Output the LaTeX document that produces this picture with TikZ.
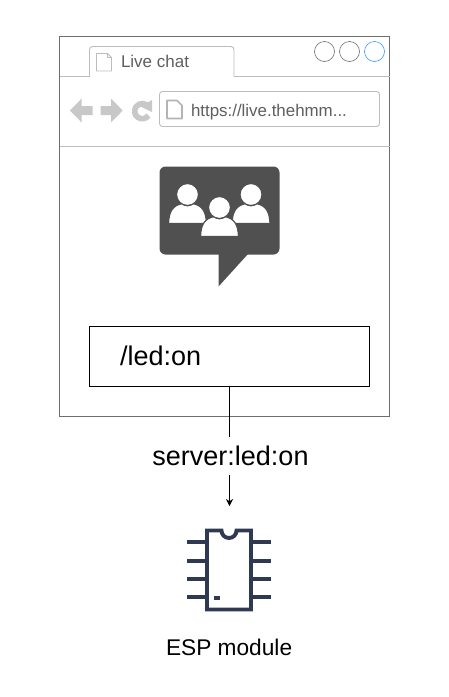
\documentclass[tikz,border=0pt]{standalone}
\usepackage{fontspec}
\setmainfont{Liberation Sans}
\usetikzlibrary{arrows.meta}
\definecolor{winline}{HTML}{6E6E6E}
\definecolor{lightline}{HTML}{BDBDBD}
\definecolor{icongrey}{HTML}{C8C8C8}
\definecolor{chatdark}{HTML}{505050}
\definecolor{chipcol}{HTML}{2F3A52}
\definecolor{txtgrey}{HTML}{5F5F5F}
\definecolor{dotblue}{HTML}{3399FF}
\tikzset{
  box/.style={draw,inner sep=0pt,outer sep=0pt},
  winbox/.style={box,draw=winline,line width=0.9pt,minimum width=330pt,minimum height=380pt},
  inputbox/.style={box,draw=black,line width=0.9pt,minimum width=280pt,minimum height=60pt},
  urlbox/.style={box,draw=lightline,line width=0.9pt,rounded corners=3pt,minimum width=220pt,minimum height=35pt},
  dot/.style={circle,box,line width=0.6pt,minimum size=20pt,draw=winline},
  sep/.style={draw=lightline,line width=0.9pt},
  pageicon/.style={draw=lightline,line width=0.9pt,fill=white,line join=round},
  navicon/.style={fill=icongrey,draw=none},
  person/.style={fill=white,draw=chatdark,line width=1.2pt},
  chipline/.style={draw=chipcol,line width=3.9pt},
  chippin/.style={draw=chipcol,line width=3.9pt},
  lbl/.style={inner sep=0pt,outer sep=0pt,anchor=base west},
  conn/.style={draw=black,line width=0.7pt},
  connarrow/.style={conn,-{Stealth[length=7pt,width=7pt]}}
}
\begin{document}
\begin{tikzpicture}[x=1pt,y=-1pt]
\useasboundingbox[fill=white] (0,0) rectangle (449,697);
\node[winbox] (win) at (224.5,226.5) {};
% tab strip
\draw[sep] (win.west |- 0,76.5) -- (89.5,76.5);
\draw[sep,rounded corners=3pt] (89.5,76.5) -- (89.5,46.5) -- (234,46.5) -- (234,76.5);
\draw[sep] (234,76.5) -- (win.east |- 0,76.5);
\draw[sep] (win.west |- 0,146.5) -- (win.east |- 0,146.5);
\draw[pageicon] (96.5,53.5) -- (107.5,53.5) -- (111.5,57.5) -- (111.5,71) -- (96.5,71) -- cycle;
\draw[draw=lightline,line width=0.5pt] (107.5,53.5) -- (107.5,57.5) -- (111.5,57.5);
\node[lbl,text=txtgrey,font=\fontsize{17}{18}\selectfont] (tabtext) at (121,67) {Live chat};
\node[dot] (c1) at (324.5,51.5) {};
\node[dot] (c2) at (349.5,51.5) {};
\node[dot,draw=dotblue] (c3) at (374.5,51.5) {};
% nav icons
\fill[navicon] (70,110.5) -- (81.7,98.5) -- (81.7,106) -- (92.7,106) -- (92.7,115) -- (81.7,115) -- (81.7,122.5) -- cycle;
\fill[navicon] (122.7,110.5) -- (111,98.5) -- (111,106) -- (100.7,106) -- (100.7,115) -- (111,115) -- (111,122.5) -- cycle;
\draw[draw=icongrey,line width=5.6pt] (148.5,115.5) arc[start angle=35,end angle=325,radius=7.6];
\fill[navicon] (152,100) -- (152,112) -- (140.5,106.5) -- cycle;
\node[urlbox] (url) at (269.5,109) {};
\draw[pageicon,line width=1.6pt,draw=icongrey!90!black] (167,100.5) -- (177,100.5) -- (182,105.5) -- (182,118.5) -- (167,118.5) -- cycle;
\node[lbl,text=txtgrey,font=\fontsize{16.9}{18}\selectfont] (urltext) at (191,116) {https://live.thehmm...};
% chat icon
\fill[chatdark,rounded corners=6pt] (159.5,166.5) rectangle (279.5,254.5);
\fill[chatdark] (218.5,250) -- (218.5,286.5) -- (248,254) -- (248,250) -- cycle;
\foreach \px/\py in {187.5/194.5,251/194.5,219.5/207.5}{
  \path[person] (\px-19,\py+29) .. controls (\px-18.5,\py+17) and (\px-15,\py+11) .. (\px-5,\py+9) .. controls (\px-3,\py+12) and (\px+3,\py+12) .. (\px+5,\py+9) .. controls (\px+15,\py+11) and (\px+18.5,\py+17) .. (\px+19,\py+29) -- cycle;
  \path[person] (\px,\py) circle[radius=11];
}
% input
\node[inputbox] (input) at (229.5,356.5) {};
\node[lbl,font=\fontsize{27}{30}\selectfont] (inputtext) at (120,365) {/led:on};
% connector
\coordinate (chiptop) at (229.5,506);
\node[inner sep=0pt,outer sep=0pt,minimum height=38pt,font=\fontsize{27}{30}\selectfont] (srv) at (230.5,456) {server:led:on};
\draw[conn] (input.south -| chiptop) -- (srv.north -| chiptop);
\draw[connarrow] (srv.south -| chiptop) -- (chiptop);
% chip
\draw[chipline,line join=miter,fill=white] (221.5,530.5) -- (207,530.5) -- (207,609.5) -- (251,609.5) -- (251,530.5) -- (236.5,530.5) arc[start angle=0,end angle=180,radius=7.5] -- cycle;
\foreach \py in {542.3,560.7,579,597.3}{
  \draw[chippin] (187,\py) -- (205,\py);
  \draw[chippin] (253,\py) -- (271,\py);
}
\fill[chipcol] (213.5,596) rectangle (220,600);
\node[lbl,font=\fontsize{22.7}{25}\selectfont] (esp) at (166,655.5) {ESP module};
\end{tikzpicture}
\end{document}
